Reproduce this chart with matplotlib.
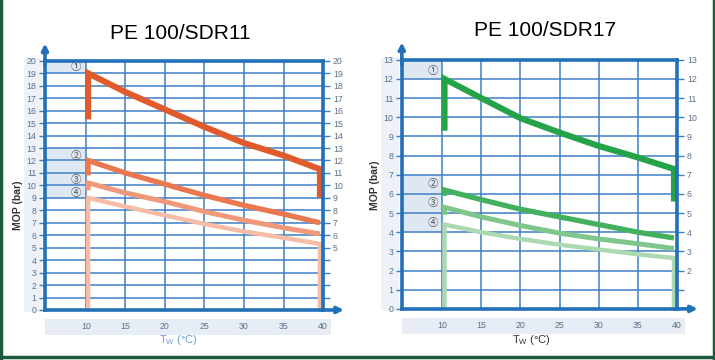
import matplotlib
matplotlib.use("Agg")
import matplotlib.pyplot as plt
from matplotlib.patches import Rectangle
from matplotlib.lines import Line2D

plt.rcParams['font.family'] = ['Liberation Sans', 'DejaVu Sans']

# ---- data ----
temps = [10.3, 15, 20, 25, 30, 35, 39.6]

# PE 100 / SDR11 (bar)
sdr11_c1 = [19.0, 17.5, 16.1, 14.7, 13.4, 12.4, 11.3]
sdr11_c2 = [12.0, 11.0, 10.1, 9.2, 8.4, 7.7, 7.0]
sdr11_c3 = [10.2, 9.4, 8.7, 7.9, 7.2, 6.6, 6.1]
sdr11_c4 = [9.0, 8.3, 7.6, 6.9, 6.3, 5.8, 5.3]
sdr11_start_low = [15.3, 10.8, 9.6, 0.0]   # bottom of the vertical piece at 10 °C
sdr11_end_low = [9.0, None, None, 0.0]     # bottom of the vertical piece at 40 °C

# PE 100 / SDR17 (bar)
sdr17_c1 = [12.0, 11.0, 9.95, 9.2, 8.5, 7.9, 7.3]
sdr17_c2 = [6.2, 5.7, 5.2, 4.8, 4.4, 4.0, 3.7]
sdr17_c3 = [5.3, 4.8, 4.35, 3.95, 3.65, 3.4, 3.15]
sdr17_c4 = [4.4, 4.0, 3.65, 3.35, 3.1, 2.85, 2.65]
sdr17_start_low = [9.3, 5.9, 4.9, 0.0]
sdr17_end_low = [5.6, None, None, 0.0]

markers = ['①', '②', '③', '④']
sdr11_marker_y = [19.5, 12.4, 10.4, 9.4]
sdr17_marker_y = [12.4, 6.5, 5.5, 4.5]
sdr11_bands = [(19, 20), (9, 13)]
sdr17_bands = [(12, 13), (4, 7)]

x_ticks = [10, 15, 20, 25, 30, 35, 40]

orange = ['#e05a2b', '#e9774f', '#f0997a', '#f6bca5']
green = ['#25a348', '#43b05e', '#7fc68c', '#acd9b2']
widths = [4.4, 3.8, 3.6, 3.2]

BLUE = '#2170b8'
GRID = '#3d7fc6'
TICKC = '#5d7088'
SHADE = '#dde8f3'


def draw_panel(ax, curves, start_low, end_low, colors, ymax, right_min,
               marker_y, bands):
    ax.set_xlim(4.85, 40)
    ax.set_ylim(0, ymax)
    for lo, hi in bands:
        ax.add_patch(Rectangle((4.85, lo), 10 - 4.85, hi - lo,
                               facecolor=SHADE, edgecolor='none', zorder=0))
    # light strips behind the tick labels
    ax.add_patch(Rectangle((-0.075, -0.01), 0.065, 1.02, transform=ax.transAxes,
                           facecolor='#edf2f8', edgecolor='none', zorder=-1,
                           clip_on=False))
    ax.add_patch(Rectangle((0.0, -0.10), 1.03, 0.065, transform=ax.transAxes,
                           facecolor='#e6edf5', edgecolor='none', zorder=-1,
                           clip_on=False))
    ax.set_xticks(x_ticks[:-1])
    ax.set_yticks(range(0, ymax + 1))
    ax.grid(True, color=GRID, linewidth=1.1, zorder=1)
    ax.set_xticklabels([])
    ax.set_yticklabels([str(v) for v in range(0, ymax + 1)])
    ax.tick_params(axis='x', length=0)
    ax.tick_params(axis='y', labelsize=6.3, labelcolor=TICKC, color=GRID,
                   length=4, width=1, pad=2)
    # right labels only from right_min upward
    axr = ax.secondary_yaxis('right')
    axr.set_yticks(range(0, ymax + 1))
    axr.set_yticklabels([str(v) if v >= right_min else '' for v in range(0, ymax + 1)])
    axr.tick_params(labelsize=6.3, labelcolor=TICKC, color=GRID, length=5,
                    width=1, pad=2)
    axr.spines['right'].set_visible(False)
    for s in ax.spines.values():
        s.set_color(BLUE)
        s.set_linewidth(2.6)
        s.set_zorder(5)
    # arrows on the axes
    ax.annotate('', xy=(0, 1.07), xytext=(0, 0.98), xycoords='axes fraction',
                arrowprops=dict(arrowstyle='-|>', color=BLUE, lw=2.6,
                                mutation_scale=9, shrinkA=0, shrinkB=0))
    ax.annotate('', xy=(1.075, 0), xytext=(0.99, 0), xycoords='axes fraction',
                arrowprops=dict(arrowstyle='-|>', color=BLUE, lw=2.6,
                                mutation_scale=9, shrinkA=0, shrinkB=0))
    # x tick labels on the shaded strip
    for t in x_ticks:
        ax.text(t, -0.067, str(t), transform=ax.get_xaxis_transform(),
                ha='center', va='center', fontsize=6.3, color=TICKC)
    # curves (drawn back to front)
    for i in reversed(range(4)):
        xs = [temps[0]] + list(temps)
        yy = [start_low[i]] + list(curves[i])
        if end_low[i] is not None:
            xs = xs + [temps[-1]]
            yy = yy + [end_low[i]]
        ax.plot(xs, yy, color=colors[i], lw=widths[i], zorder=3,
                solid_joinstyle='miter', solid_capstyle='butt')
    for m, y in zip(markers, marker_y):
        ax.text(8.75, y, m, ha='center', va='center', fontsize=7.5,
                color='#555555', family=['Noto Sans CJK SC', 'DejaVu Sans'],
                zorder=4)


fig = plt.figure(figsize=(7.15, 3.6), dpi=100)

ax1 = fig.add_axes([0.0629, 0.139, 0.389, 0.692])
draw_panel(ax1, [sdr11_c1, sdr11_c2, sdr11_c3, sdr11_c4], sdr11_start_low,
           sdr11_end_low, orange, 20, 5, sdr11_marker_y, sdr11_bands)

ax2 = fig.add_axes([0.562, 0.142, 0.385, 0.692])
draw_panel(ax2, [sdr17_c1, sdr17_c2, sdr17_c3, sdr17_c4], sdr17_start_low,
           sdr17_end_low, green, 13, 2, sdr17_marker_y, sdr17_bands)

fig.text(0.252, 0.908, 'PE 100/SDR11', ha='center', va='center', fontsize=15)
fig.text(0.762, 0.915, 'PE 100/SDR17', ha='center', va='center', fontsize=15)

fig.text(0.025, 0.43, 'MOP (bar)', rotation=90, ha='center', va='center',
         fontsize=7.5, fontweight='bold', color='#333333')
fig.text(0.524, 0.485, 'MOP (bar)', rotation=90, ha='center', va='center',
         fontsize=7.5, fontweight='bold', color='#333333')

fig.text(0.249, 0.055, r'T$_\mathregular{W}$ (°C)', ha='center', va='center',
         fontsize=8, color='#6e9ccf')
fig.text(0.743, 0.055, r'T$_\mathregular{W}$ (°C)', ha='center', va='center',
         fontsize=8, color='#333333')

# dark green frame
for xs, ys in [([0.002, 0.002], [0, 1]), ([0.998, 0.998], [0, 1]),
               ([0, 1], [0.007, 0.007])]:
    fig.add_artist(Line2D(xs, ys, transform=fig.transFigure, color='#1d5a3c', lw=2.5))

fig.savefig('out.png', dpi=100)
